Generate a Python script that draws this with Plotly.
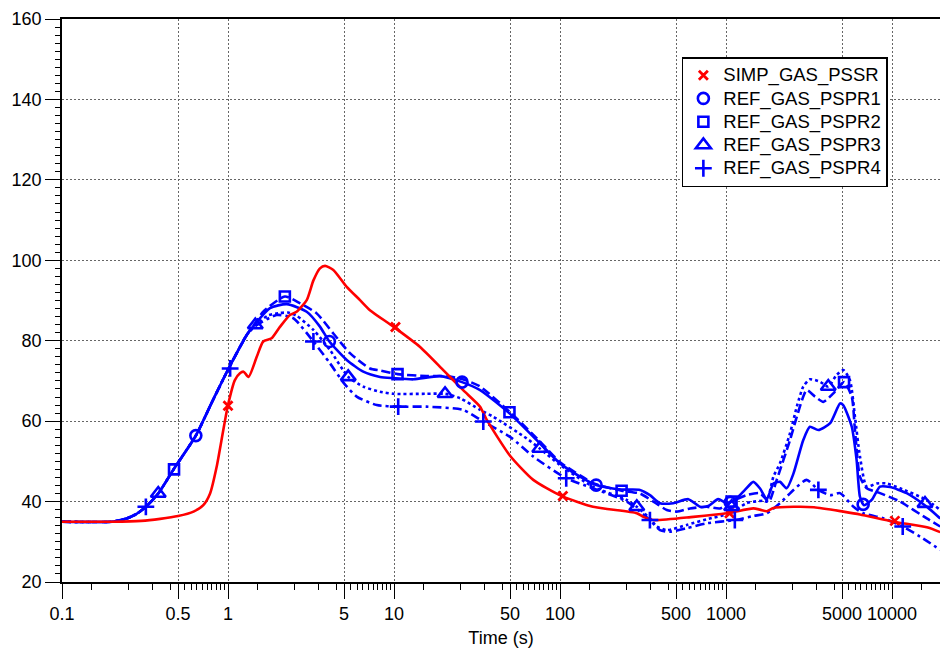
import plotly.graph_objects as go

# ---- series data (time in s, value) ----
simp_x = [0.1, 0.2, 0.3, 0.39, 0.5, 0.62, 0.71, 0.78, 0.855, 0.937, 1.0, 1.1, 1.18, 1.24,
          1.33, 1.49, 1.63, 1.83, 2.06, 2.36, 2.59, 2.98, 3.27, 3.58, 3.84, 4.31, 5.19, 6.24,
          7.16, 9.9, 14.3, 19.8, 26.1, 33, 36, 50, 69, 102, 158, 290, 318, 365, 635, 1010,
          1460, 1600, 1760, 1930, 2550, 3390, 5090, 6410, 10200, 16200, 19500]
simp_y = [35, 35, 35.2, 35.7, 36.4, 37.5, 39.1, 42, 48.7, 57.8, 64, 70.2, 71.9, 72.3,
          71, 76, 79.8, 80.6, 83.5, 86.4, 87.2, 90.1, 95, 98, 98.6, 97.6, 93.4, 90.1,
          87.6, 83.5, 78.5, 72.7, 67.7, 63.6, 60.5, 51.4, 45.4, 41.4, 38.7, 37.1, 36.2, 35.4, 36.2, 37.1,
          38.3, 38.0, 37.6, 38.4, 38.7, 38.6, 37.5, 36.8, 35.0, 33.6, 32.4]
simp_mx = [1.0, 10.2, 104, 1050, 10400]
simp_my = [63.8, 83.4, 41.4, 37.1, 35.2]

pspr1_x = [0.1, 0.2, 0.245, 0.28, 0.32, 0.38, 0.47, 0.64, 0.8, 1.0, 1.3, 1.46, 1.79, 2.26,
           2.98, 3.58, 4.08, 5.19, 6.53, 8.24, 9.9, 13.1, 18.9, 25.7, 33, 50, 75.5, 100, 132,
           165, 235, 303, 348, 400, 481, 593, 697, 782, 897, 1010, 1160, 1300, 1460, 1600,
           1760, 1930, 2114, 2320, 2550, 2920, 3200, 3600, 4240, 4860, 5080, 5720, 6120,
           6410, 6780, 7540, 8470, 9720, 12250, 16200, 19500]
pspr1_y = [35, 35, 35.8, 36.9, 38.7, 42, 48, 56.4, 64.7, 72.8, 81.5, 84.2, 88.1, 89.1,
           87.2, 83.5, 79.8, 75.2, 72.3, 71, 70.7, 70.4, 71.2, 69.7, 67.7, 61.8, 54.5, 49.5, 46.2,
           44.1, 43, 42.9, 41.6, 39.6, 39.6, 40.6, 38.7, 38.9, 40.6, 39.6, 40.8, 42.9, 44.9, 43.3,
           40.6, 44.5, 44.9, 43.3, 47, 55.3, 58.6, 57.8, 59.5, 64.4, 64, 58.6, 50.3,
           41.2, 39.1, 40.4, 43.7, 43.6, 42.1, 38.7, 35.8]
pspr1_mx = [0.64, 4.08, 25.7, 165, 1060, 6700]
pspr1_my = [56.4, 79.8, 69.7, 44.1, 39.8, 39.3]

pspr2_x = [0.1, 0.2, 0.245, 0.28, 0.32, 0.38, 0.47, 0.64, 0.8, 1.0, 1.3, 1.46, 1.63, 2.2,
           2.72, 3.42, 4.31, 5.43, 7.16, 8.24, 10.5, 15.7, 20.7, 25.7, 33, 50, 75.5, 100, 132,
           165, 235, 303, 365, 440, 505, 607, 765, 920, 1080, 1330, 1600, 1810, 2020, 2430,
           2670, 3060, 3440, 3860, 4430, 5140, 5720, 5980, 6410, 7040, 8470, 11170, 16200, 19500]
pspr2_y = [35, 35, 35.8, 36.9, 38.7, 42, 48, 56.4, 64.7, 72.8, 81.5, 84.4, 87.2, 91,
           89.3, 86.8, 81.8, 76.9, 73.1, 72.6, 71.7, 71.2, 71.2, 70.5, 68.6, 62.2, 55, 49.8, 46.5,
           44.3, 42.7, 42, 40, 37.9, 37.5, 38.3, 38.7, 38.3, 40, 41.6, 42.1, 40, 45.4, 55.3,
           61.1, 67.7, 66.1, 64.8, 66.9, 69.7, 66.1, 57.8, 46.2, 43.3, 42.1, 40, 35.8, 33.8]
pspr2_mx = [0.473, 2.2, 10.5, 49.6, 235, 1080, 5140]
pspr2_my = [48, 91, 71.7, 62.2, 42.7, 40, 69.7]

pspr3_x = [0.1, 0.2, 0.245, 0.28, 0.32, 0.38, 0.47, 0.64, 0.8, 1.0, 1.3, 1.46, 1.75, 2.06,
           2.3, 2.59, 3.27, 4.11, 5.3, 6.53, 8.24, 9.9, 15.7, 20.3, 25, 33, 39.6, 63, 75.5,
           100, 158, 252, 290, 348, 382, 440, 580, 765, 1060, 1330, 1680, 1760, 1930, 2114,
           2430, 2670, 2920, 3200, 3680, 4130, 4640, 5090, 5580, 5980, 6410, 7040, 8090, 9290,
           11170, 16200, 19500]
pspr3_y = [35, 35, 35.8, 36.9, 38.7, 42, 48, 56.4, 64.7, 72.8, 81.5, 83.9, 86.3, 86.9,
           87, 86.2, 82.7, 77.7, 71, 68.6, 67.3, 66.8, 66.8, 66.8, 65.7, 62.8, 61.1, 55.7, 53.2,
           49.1, 43.7, 40.4, 38.7, 35.8, 33.8, 32.9, 34.2, 35.6, 37.1, 39.6, 40.2, 40, 46.2, 49.5,
           57, 63.6, 68.6, 70.4, 69.8, 68.6, 71.5, 72.7, 70.2, 61.1, 51.2, 43.7, 44.5, 44.5,
           43.3, 40.4, 37.9]
pspr3_mx = [0.38, 1.46, 5.3, 20.3, 75.5, 290, 1080, 4130, 15800]
pspr3_my = [42, 83.9, 71, 66.8, 53.2, 38.7, 38.7, 68.6, 39.5]

pspr4_x = [0.1, 0.2, 0.245, 0.28, 0.32, 0.38, 0.47, 0.64, 0.8, 1.0, 1.3, 1.46, 1.96, 2.47,
           3.27, 4.11, 5.0, 5.96, 7.87, 10.6, 15.7, 26.1, 34.5, 50, 69, 109, 158, 252, 348,
           400, 460, 580, 765, 1130, 1460, 1760, 2114, 2550, 3060, 3600, 4240, 4860, 5860,
           6700, 8960, 11600, 14750, 19500]
pspr4_y = [35, 35, 35.8, 36.9, 38.7, 42, 48, 56.4, 64.7, 72.8, 81.5, 83.6, 86.4, 85.6,
           79.8, 74.4, 69.4, 66.1, 64, 63.6, 63.6, 62.8, 59.9, 56.1, 51.2, 45.8, 43.3, 40, 35.4,
           32.9, 32.5, 33.4, 34.6, 35.4, 36.4, 37.1, 39.6, 42.9, 45.4, 42.9, 41.6, 42.1, 38.7,
           37.1, 35.8, 33.8, 31.3, 28]
pspr4_mx = [0.32, 1.03, 3.27, 10.6, 34.5, 109, 348, 1130, 3600, 11600]
pspr4_my = [38.7, 73.1, 79.8, 63.6, 59.9, 45.8, 35.4, 35.4, 42.9, 33.8]

# ---- axis ticks ----
x_major = [0.1, 0.5, 1, 5, 10, 50, 100, 500, 1000, 5000, 10000]
x_major_text = ["0.1", "0.5", "1", "5", "10", "50", "100", "500", "1000", "5000", "10000"]
decades = [0.1, 1, 10, 100, 1000, 10000]
x_mid = [d * m for d in decades for m in (2, 3, 4)]
x_short = [d * m for d in decades for m in (1.5, 2.5, 3.5, 4.5, 5.5, 6, 6.5, 7, 7.5, 8, 8.5, 9, 9.5)]

BLUE = "#0000ff"
RED = "#ff0000"
FONT = "Liberation Sans, Arial, sans-serif"


def legend_label(text):
    # larger glyphs than the legend's base size, which keeps the rows compact
    return '<span style="font-size:18.5px">' + text + '</span>'


fig = go.Figure()

blue_series = [
    ("REF_GAS_PSPR1", pspr1_x, pspr1_y, pspr1_mx, pspr1_my, "solid", "circle-open", 11),
    ("REF_GAS_PSPR2", pspr2_x, pspr2_y, pspr2_mx, pspr2_my, "9px,4px", "square-open", 10),
    ("REF_GAS_PSPR3", pspr3_x, pspr3_y, pspr3_mx, pspr3_my, "3px,3px", "triangle-up-open", 13),
    ("REF_GAS_PSPR4", pspr4_x, pspr4_y, pspr4_mx, pspr4_my, "9px,4px,3px,4px", "cross-thin-open", 12),
]

legend_entries = []
for name, lx, ly, mx, my, dash, sym, size in blue_series:
    fig.add_trace(go.Scatter(x=lx, y=ly, mode="lines", showlegend=False,
                             line=dict(color=BLUE, width=2.6, dash=dash, shape="spline", smoothing=0.6),
                             hoverinfo="skip"))
    legend_entries.append(go.Scatter(x=mx, y=my, mode="markers", name=legend_label(name),
                                     marker=dict(symbol=sym, size=size, color=BLUE,
                                                 line=dict(color=BLUE, width=2.6))))

fig.add_trace(go.Scatter(x=simp_x, y=simp_y, mode="lines", showlegend=False,
                         line=dict(color=RED, width=2.6, shape="spline", smoothing=0.6),
                         hoverinfo="skip"))
fig.add_trace(go.Scatter(x=simp_mx, y=simp_my, mode="markers", name=legend_label("SIMP_GAS_PSSR"),
                         marker=dict(symbol="x-thin-open", size=9, color=RED,
                                     line=dict(color=RED, width=2.8))))
for tr in legend_entries:
    fig.add_trace(tr)

fig.update_layout(
    width=940, height=654,
    margin=dict(l=62, r=0, t=19, b=72),
    paper_bgcolor="white", plot_bgcolor="white",
    font=dict(family=FONT, size=18, color="black"),
    showlegend=True,
    legend=dict(x=0.706, y=0.9325, xanchor="left", yanchor="top",
                bgcolor="white", bordercolor="black", borderwidth=1.5,
                font=dict(family=FONT, size=15.6, color="black"),
                traceorder="normal", itemsizing="trace"),
    xaxis=dict(
        type="log", range=[-1, 4.289],
        tickmode="array", tickvals=x_major, ticktext=x_major_text,
        ticks="outside", ticklen=15, tickwidth=1, tickcolor="black",
        showline=True, linecolor="black", linewidth=1.5, mirror=True,
        showgrid=True, gridcolor="#666666", gridwidth=1, griddash="2px,2px",
        minor=dict(tickmode="array", tickvals=x_short, ticks="outside", ticklen=6,
                   tickcolor="black", tickwidth=1, showgrid=False),
        zeroline=False,
        tickfont=dict(family=FONT, size=18, color="black"),
        title=dict(text="Time (s)", font=dict(family=FONT, size=18, color="black"), standoff=8),
    ),
    xaxis2=dict(
        type="log", range=[-1, 4.289], overlaying="x", anchor="y", side="bottom",
        tickmode="array", tickvals=x_mid, showticklabels=False,
        ticks="outside", ticklen=11, tickwidth=1, tickcolor="black",
        showline=False, showgrid=False, zeroline=False,
    ),
    yaxis=dict(
        range=[20, 160], tickmode="linear", tick0=20, dtick=20,
        ticks="outside", ticklen=15, tickwidth=1, tickcolor="black",
        showline=True, linecolor="black", linewidth=1.5,
        showgrid=True, gridcolor="#666666", gridwidth=1, griddash="2px,2px",
        minor=dict(dtick=2, ticks="outside", ticklen=5, tickcolor="black", tickwidth=1, showgrid=False),
        zeroline=False,
        tickfont=dict(family=FONT, size=18, color="black"),
    ),
)

fig.write_html("out.html")
